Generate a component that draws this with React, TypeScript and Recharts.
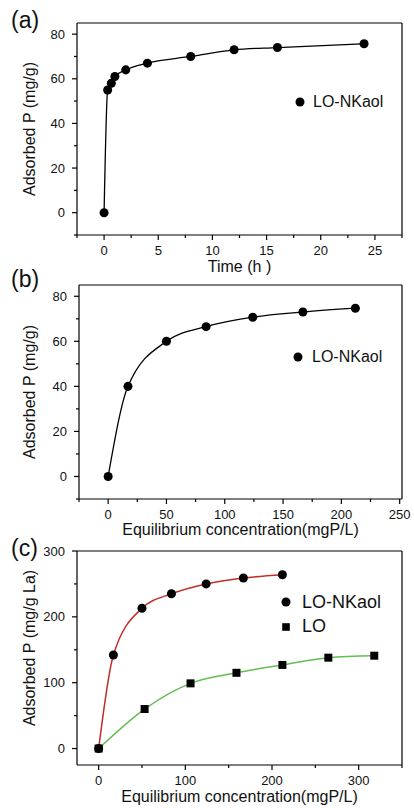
import React from "react";
import { ComposedChart, Scatter, Line, XAxis, YAxis, Legend, Label, CartesianGrid } from "recharts";

// (a) kinetics
const timeH = [0, 0.33, 0.67, 1, 2, 4, 8, 12, 16, 24];
const adsorbedVsTime = [0, 55, 58, 61, 64, 67, 70, 73, 74, 75.7];
// (b) isotherm, per g adsorbent
const eqConcNKaol = [0, 17, 50, 84, 124, 167, 212];
const adsorbedVsConc = [0, 40, 60, 66.5, 70.7, 73, 74.7];
// (c) isotherm, per g La
const adsorbedLaNKaol = [0, 142, 213, 235, 250, 259, 264];
const eqConcLO = [0, 53, 106, 159, 212, 265, 318];
const adsorbedLaLO = [0, 60, 99, 115, 127, 138, 141];

const timeMajor = [0, 5, 10, 15, 20, 25];
const timeMinor = [-2.5, 2.5, 7.5, 12.5, 17.5, 22.5, 27.5];
const concMajorB = [0, 50, 100, 150, 200, 250];
const concMinorB = [-25, 25, 75, 125, 175, 225];
const concMajorC = [0, 100, 200, 300];
const concMinorC = [50, 150, 250, 350];
const pMajor = [0, 20, 40, 60, 80];
const pMinor = [-10, 10, 30, 50, 70];
const pLaMajor = [0, 100, 200, 300];
const pLaMinor = [50, 150, 250];

const legendOrder = ["LO-NKaol", "LO"];

const FONT = "'Liberation Sans', Arial, sans-serif";
const TICK_SIZE = 5;
const TICK_MARGIN = 5;

const toPoints = (xs: number[], ys: number[]) => xs.map((x, i) => ({ x, y: ys[i] }));
const merged = (a: number[], b: number[]) => [...a, ...b].sort((p, q) => p - q);

function makeXTick(majors: number[]) {
  return (props: any) => {
    const { x, y, payload } = props;
    const axisY = y - TICK_SIZE - TICK_MARGIN;
    const major = majors.includes(payload.value);
    return (
      <g>
        <line x1={x} x2={x} y1={axisY} y2={axisY + (major ? 5 : 3)} stroke="#000" strokeWidth={1.2} />
        {major && (
          <text x={x} y={y} dy="0.75em" textAnchor="middle" fontSize={13} fontFamily={FONT} fill="#111">
            {payload.value}
          </text>
        )}
      </g>
    );
  };
}

function makeYTick(majors: number[]) {
  return (props: any) => {
    const { x, y, payload } = props;
    const axisX = x + TICK_SIZE + TICK_MARGIN;
    const major = majors.includes(payload.value);
    return (
      <g>
        <line x1={axisX} x2={axisX - (major ? 5 : 3)} y1={y} y2={y} stroke="#000" strokeWidth={1.2} />
        {major && (
          <text x={x - 2} y={y} dy="0.35em" textAnchor="end" fontSize={13} fontFamily={FONT} fill="#111">
            {payload.value}
          </text>
        )}
      </g>
    );
  };
}

const xTitle = (text: string, dy: number) => (props: any) => {
  const vb = props.viewBox;
  return (
    <text x={vb.x + vb.width / 2} y={vb.y + dy} textAnchor="middle" fontSize={16} fontFamily={FONT} fill="#111">
      {text}
    </text>
  );
};

const yTitle = (text: string, cx: number, shift: number) => (props: any) => {
  const vb = props.viewBox;
  const cy = vb.y + vb.height / 2 + shift;
  return (
    <text
      x={cx}
      y={cy}
      transform={`rotate(-90 ${cx} ${cy})`}
      dy="0.35em"
      textAnchor="middle"
      fontSize={16}
      fontFamily={FONT}
      fill="#111"
    >
      {text}
    </text>
  );
};

const legendBox = (fontSize: number, lineHeight: number, gap: number) => (props: any) => {
  const items = (props.payload || [])
    .filter((p: any) => p.type !== "none")
    .sort((a: any, b: any) => legendOrder.indexOf(a.value) - legendOrder.indexOf(b.value));
  return (
    <div style={{ fontFamily: FONT, fontSize, lineHeight: `${lineHeight}px`, color: "#111" }}>
      {items.map((p: any) => (
        <div key={p.value} style={{ display: "flex", alignItems: "center" }}>
          <svg width={10} height={10} style={{ marginRight: gap }}>
            {p.type === "square" ? (
              <rect x={1.2} y={1.2} width={7.6} height={7.6} fill="#000" />
            ) : (
              <circle cx={5} cy={5} r={4.5} fill="#000" />
            )}
          </svg>
          <span>{p.value}</span>
        </div>
      ))}
    </div>
  );
};

// top and right edges of the plot box
const topEdge = ({ offset }: any) => [offset.top];
const rightEdge = ({ offset }: any) => [offset.left + offset.width];

function PanelLabel({ text, top }: { text: string; top: number }) {
  return (
    <div style={{ position: "absolute", left: 11, top, fontFamily: FONT, fontSize: 23, lineHeight: "24px", color: "#111" }}>
      {text}
    </div>
  );
}

const axisLine = { stroke: "#000", strokeWidth: 1.2 };

function Box() {
  return (
    <CartesianGrid
      stroke="#000"
      strokeWidth={1.2}
      horizontalCoordinatesGenerator={topEdge}
      verticalCoordinatesGenerator={rightEdge}
    />
  );
}

function KineticsChart() {
  const xDomain = [-2.5, 27.5];
  const yDomain = [-10, 85];
  const data = toPoints(timeH, adsorbedVsTime);
  return (
    <ComposedChart width={414} height={285} margin={{ top: 23, right: 12, left: 0, bottom: 0 }}>
      {Box()}
      <XAxis
        type="number"
        dataKey="x"
        domain={xDomain}
        ticks={merged(timeMajor, timeMinor)}
        interval={0}
        height={50}
        tickSize={TICK_SIZE}
        tickMargin={TICK_MARGIN}
        tickLine={false}
        tick={makeXTick(timeMajor)}
        axisLine={axisLine}
        allowDataOverflow
      >
        <Label content={xTitle("Time (h )", 37)} />
      </XAxis>
      <YAxis
        type="number"
        dataKey="y"
        domain={yDomain}
        ticks={merged(pMajor, pMinor)}
        interval={0}
        width={77}
        tickSize={TICK_SIZE}
        tickMargin={TICK_MARGIN}
        tickLine={false}
        tick={makeYTick(pMajor)}
        axisLine={axisLine}
        allowDataOverflow
      >
        <Label content={yTitle("Adsorbed P  (mg/g)", 29, 0)} />
      </YAxis>
      <Legend layout="vertical" align="center" verticalAlign="middle" content={legendBox(16, 20, 8)} wrapperStyle={{ left: 295, top: 92, width: "auto" }} />
      <Line data={data} dataKey="y" type="monotone" stroke="#000" strokeWidth={1.3} dot={false} legendType="none" isAnimationActive={false} />
      <Scatter name="LO-NKaol" data={data} fill="#000" shape="circle" legendType="circle" isAnimationActive={false} />
    </ComposedChart>
  );
}

function IsothermChart() {
  const xDomain = [-25, 252];
  const yDomain = [-10, 85];
  const data = toPoints(eqConcNKaol, adsorbedVsConc);
  return (
    <ComposedChart width={414} height={275} margin={{ top: 15, right: 12, left: 0, bottom: 0 }}>
      {Box()}
      <XAxis
        type="number"
        dataKey="x"
        domain={xDomain}
        ticks={merged(concMajorB, concMinorB)}
        interval={0}
        height={46}
        tickSize={TICK_SIZE}
        tickMargin={TICK_MARGIN}
        tickLine={false}
        tick={makeXTick(concMajorB)}
        axisLine={axisLine}
        allowDataOverflow
      >
        <Label content={xTitle("Equilibrium concentration(mgP/L)", 36)} />
      </XAxis>
      <YAxis
        type="number"
        dataKey="y"
        domain={yDomain}
        ticks={merged(pMajor, pMinor)}
        interval={0}
        width={79}
        tickSize={TICK_SIZE}
        tickMargin={TICK_MARGIN}
        tickLine={false}
        tick={makeYTick(pMajor)}
        axisLine={axisLine}
        allowDataOverflow
      >
        <Label content={yTitle("Adsorbed P  (mg/g)", 29, 0)} />
      </YAxis>
      <Legend layout="vertical" align="center" verticalAlign="middle" content={legendBox(16, 20, 9)} wrapperStyle={{ left: 293, top: 77, width: "auto" }} />
      <Line data={data} dataKey="y" type="monotone" stroke="#000" strokeWidth={1.3} dot={false} legendType="none" isAnimationActive={false} />
      <Scatter name="LO-NKaol" data={data} fill="#000" shape="circle" legendType="circle" isAnimationActive={false} />
    </ComposedChart>
  );
}

function LaIsothermChart() {
  const xDomain = [-25, 350];
  const yDomain = [-25, 300];
  const nkaol = toPoints(eqConcNKaol, adsorbedLaNKaol);
  const lo = toPoints(eqConcLO, adsorbedLaLO);
  return (
    <ComposedChart width={414} height={278} margin={{ top: 21, right: 12, left: 0, bottom: 0 }}>
      {Box()}
      <XAxis
        type="number"
        dataKey="x"
        domain={xDomain}
        ticks={merged(concMajorC, concMinorC)}
        interval={0}
        height={43}
        tickSize={TICK_SIZE}
        tickMargin={TICK_MARGIN}
        tickLine={false}
        tick={makeXTick(concMajorC)}
        axisLine={axisLine}
        allowDataOverflow
      >
        <Label content={xTitle("Equilibrium concentration(mgP/L)", 37)} />
      </XAxis>
      <YAxis
        type="number"
        dataKey="y"
        domain={yDomain}
        ticks={merged(pLaMajor, pLaMinor)}
        interval={0}
        width={77}
        tickSize={TICK_SIZE}
        tickMargin={TICK_MARGIN}
        tickLine={false}
        tick={makeYTick(pLaMajor)}
        axisLine={axisLine}
        allowDataOverflow
      >
        <Label content={yTitle("Adsorbed P  (mg/g La)", 29, -10)} />
      </YAxis>
      <Legend layout="vertical" align="center" verticalAlign="middle" content={legendBox(18, 24.4, 11)} wrapperStyle={{ left: 281, top: 60, width: "auto" }} />
      <Scatter name="LO-NKaol" data={nkaol} fill="#000" shape="circle" legendType="circle" isAnimationActive={false} />
      <Scatter name="LO" data={lo} fill="#000" shape="square" legendType="square" isAnimationActive={false} />
      <Line data={nkaol} dataKey="y" type="monotone" stroke="#c0302a" strokeWidth={1.5} dot={false} legendType="none" isAnimationActive={false} />
      <Line data={lo} dataKey="y" type="monotone" stroke="#5fbf4f" strokeWidth={1.5} dot={false} legendType="none" isAnimationActive={false} />
    </ComposedChart>
  );
}

export default function App() {
  return (
    <div style={{ position: "absolute", left: 0, top: 0, width: 414, height: 808, background: "#fff", overflow: "hidden" }}>
      <div style={{ position: "absolute", left: 0, top: 0 }}>
        <KineticsChart />
      </div>
      <div style={{ position: "absolute", left: 0, top: 270 }}>
        <IsothermChart />
      </div>
      <div style={{ position: "absolute", left: 0, top: 530 }}>
        <LaIsothermChart />
      </div>
      <PanelLabel text="(a)" top={8} />
      <PanelLabel text="(b)" top={267} />
      <PanelLabel text="(c)" top={536} />
    </div>
  );
}
